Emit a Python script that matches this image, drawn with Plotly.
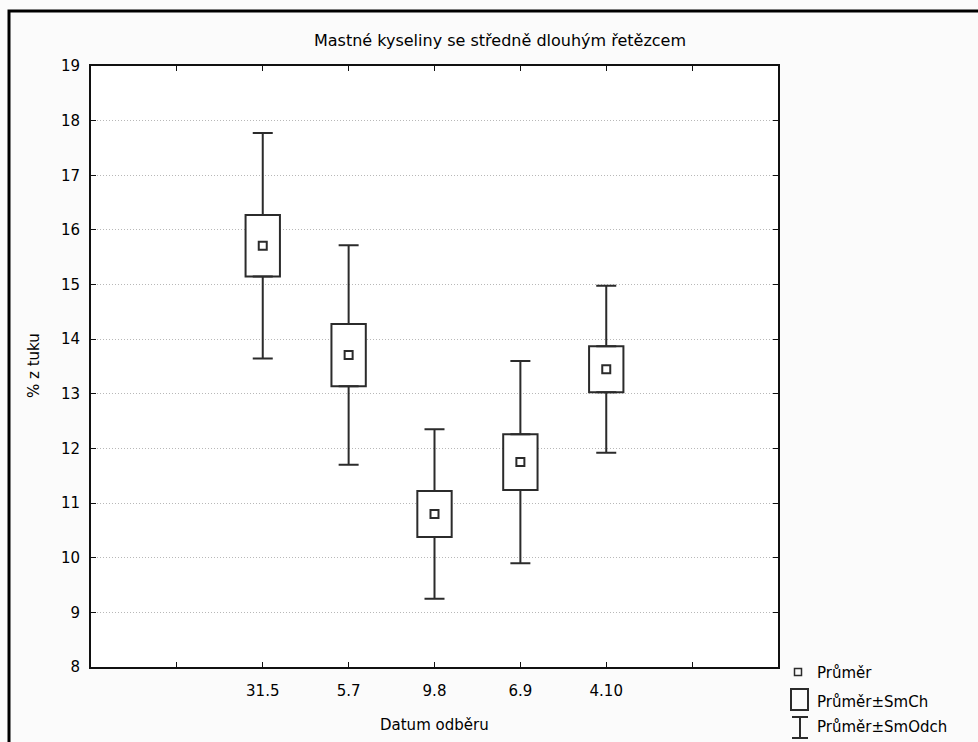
import plotly.graph_objects as go

# ---- data ----
categories = ["31.5", "5.7", "9.8", "6.9", "4.10"]
means = [15.71, 13.71, 10.80, 11.75, 13.45]
se = [0.565, 0.57, 0.42, 0.51, 0.42]     # SmCh (standard error)
sd = [2.065, 2.01, 1.55, 1.85, 1.53]     # SmOdch (standard deviation)
pad_cats = [" ", "  "]
y_ticks = list(range(8, 20))

title_text = "Mastné kyseliny se středně dlouhým řetězcem"
x_title = "Datum odběru"
y_title = "% z tuku"
legend_labels = ["Průměr", "Průměr±SmCh", "Průměr±SmOdch"]

# ---- layout geometry ----
W, H = 978, 742
ML, MR, MT, MB = 91, 200, 66, 75
PW, PH = W - ML - MR, H - MT - MB

def px(x):
    return (x - ML) / PW

def py(y):
    return (H - MB - y) / PH

INK = "#2b2b2b"
FONT = "DejaVu Sans"

lo_box = [m - s for m, s in zip(means, se)]
box_h = [2 * s for s in se]
hi_box = [m + s for m, s in zip(means, se)]
whisk = [d - s for d, s in zip(sd, se)]
zeros = [0] * len(categories)

fig = go.Figure()

fig.add_trace(go.Bar(
    x=categories, y=box_h, base=lo_box, width=0.4,
    marker=dict(color="white", line=dict(color=INK, width=2)),
    showlegend=False, hoverinfo="skip"))

fig.add_trace(go.Scatter(
    x=categories, y=hi_box, mode="markers",
    marker=dict(size=1, opacity=0),
    error_y=dict(type="data", symmetric=False, array=whisk, arrayminus=zeros,
                 width=10, thickness=2, color=INK),
    showlegend=False, hoverinfo="skip"))

fig.add_trace(go.Scatter(
    x=categories, y=lo_box, mode="markers",
    marker=dict(size=1, opacity=0),
    error_y=dict(type="data", symmetric=False, array=zeros, arrayminus=whisk,
                 width=10, thickness=2, color=INK),
    showlegend=False, hoverinfo="skip"))

fig.add_trace(go.Scatter(
    x=categories, y=means, mode="markers",
    marker=dict(symbol="square-open", size=8, color=INK, line=dict(width=2, color=INK)),
    showlegend=False, hoverinfo="skip"))

cat_order = [pad_cats[0]] + categories + [pad_cats[1]]

fig.update_layout(
    width=W, height=H,
    margin=dict(l=ML, r=MR, t=MT, b=MB, autoexpand=False),
    paper_bgcolor="#fbfbfb", plot_bgcolor="white",
    font=dict(family=FONT, size=15, color="#000000"),
    showlegend=False,
    title=dict(text=title_text, x=px(500), xanchor="center", xref="paper",
               y=1 - 40 / H, yanchor="middle", font=dict(size=16)),
    xaxis=dict(type="category", categoryorder="array", categoryarray=cat_order,
               range=[-1, len(cat_order)], showgrid=False, zeroline=False,
               showline=True, linecolor="#111111", linewidth=2, mirror="ticks",
               ticks="inside", ticklen=5, tickwidth=1, tickcolor="#111111",
               ticklabelstandoff=9, tickfont=dict(size=15)),
    yaxis=dict(range=[8, 19], tickvals=y_ticks, showgrid=True,
               gridcolor="#b8b8b8", gridwidth=1, griddash="1px,2px", zeroline=False,
               showline=True, linecolor="#111111", linewidth=2, mirror="ticks",
               ticks="inside", ticklen=5, tickwidth=1, tickcolor="#111111",
               ticklabelstandoff=6, tickfont=dict(size=15)),
)

# axis titles
fig.add_annotation(text=x_title, xref="paper", yref="paper", x=px(434), y=py(725),
                   showarrow=False, xanchor="center", yanchor="middle", font=dict(size=15))
fig.add_annotation(text=y_title, xref="paper", yref="paper", x=px(34), y=py(366),
                   showarrow=False, textangle=-90, xanchor="center", yanchor="middle",
                   font=dict(size=15))

# outer frame (top & left visible)
fig.add_shape(type="rect", xref="paper", yref="paper",
              x0=px(9), x1=px(1000), y0=py(11), y1=py(780),
              line=dict(color="black", width=3), layer="below")

# manual legend
fig.add_shape(type="rect", xref="paper", yref="paper",
              x0=px(794.5), x1=px(801.5), y0=py(668.5), y1=py(675.5),
              line=dict(color=INK, width=1.5))
fig.add_shape(type="rect", xref="paper", yref="paper",
              x0=px(791), x1=px(808), y0=py(689), y1=py(710),
              line=dict(color=INK, width=2))
fig.add_shape(type="line", xref="paper", yref="paper",
              x0=px(800), x1=px(800), y0=py(717), y1=py(738),
              line=dict(color=INK, width=2))
fig.add_shape(type="line", xref="paper", yref="paper",
              x0=px(792), x1=px(808), y0=py(717), y1=py(717),
              line=dict(color=INK, width=2))
fig.add_shape(type="line", xref="paper", yref="paper",
              x0=px(792), x1=px(808), y0=py(738), y1=py(738),
              line=dict(color=INK, width=2))
for lab, yy in zip(legend_labels, [673, 702, 727]):
    fig.add_annotation(text=lab, xref="paper", yref="paper", x=px(815), y=py(yy),
                       showarrow=False, xanchor="left", yanchor="middle",
                       font=dict(size=15))

fig.write_html("out.html")
